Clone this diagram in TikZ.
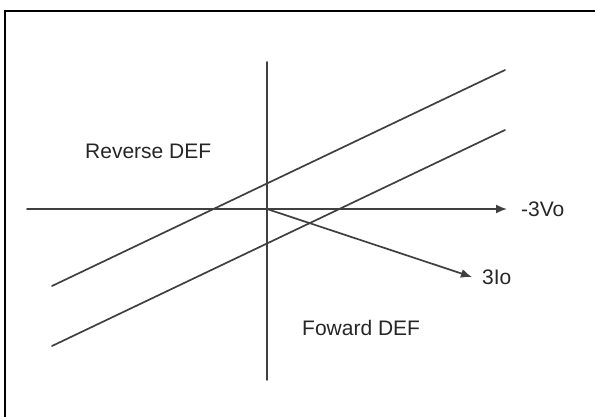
\documentclass[tikz,border=0pt]{standalone}
\usepackage{fontspec}
\setmainfont{Liberation Sans}
\usetikzlibrary{arrows.meta, positioning}
\definecolor{defink}{HTML}{404040}
\tikzset{
  defframe/.style = {draw=black, line width=2pt},
  defline/.style  = {draw=defink, line width=1.7pt, line cap=round},
  defaxis/.style  = {defline, -{Latex[length=11pt, width=9pt]}},
  deflbl/.style   = {font=\fontsize{21}{25}\selectfont, text=black!85,
                     inner sep=0pt},
}
\begin{document}
\begin{tikzpicture}[x=1pt, y=-1pt]
        \useasboundingbox (0,0) rectangle (595,417);
        \draw[defframe] (5,417) -- (5,11) -- (595,11);

        \coordinate (hstart) at (27,209);
        \coordinate (hend)   at (507,209);
        \coordinate (vtop)   at (267,62);
        \coordinate (vbot)   at (267,380);
        \coordinate (orig)   at (267,209);
        \coordinate (iend)   at (472,277);
        \coordinate (upa)    at (52,286);
        \coordinate (upb)    at (505,70);
        \coordinate (loa)    at (52,346);
        \coordinate (lob)    at (505,130);

        \draw[defaxis] (hstart) -- (hend);
        \draw[defline] (vtop) -- (vbot);
        \draw[defline] (upa) -- (upb);
        \draw[defline] (loa) -- (lob);
        \draw[defaxis] (orig) -- (iend);

        \node[deflbl, right=14pt of hend] (vlbl) {-3Vo};
        \node[deflbl, right=10pt of iend] (ilbl) {3Io};
        \node[deflbl, anchor=west] (rev) at (85,151) {Reverse DEF};
        \node[deflbl, anchor=west] (fwd) at (302,328) {Foward DEF};
    \end{tikzpicture}
\end{document}
